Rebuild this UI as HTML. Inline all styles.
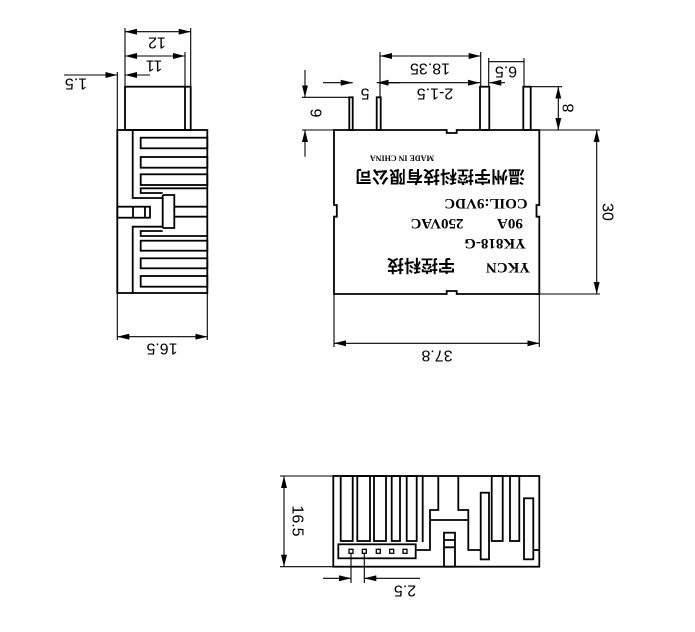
<!DOCTYPE html>
<html><head><meta charset="utf-8"><style>
html,body{margin:0;padding:0;background:#fff;}
svg{display:block;}
text{font-family:"Liberation Sans",sans-serif;fill:#000;}
.b{font-family:"Liberation Serif","Noto Serif CJK SC",serif;font-weight:bold;}
.c{font-family:"Noto Sans CJK SC",sans-serif;font-weight:bold;}
</style></head><body>
<svg width="695" height="632" viewBox="0 0 695 632" xmlns="http://www.w3.org/2000/svg">
<defs>
<marker id="a" viewBox="0 0 12 6" refX="12" refY="3" markerWidth="12" markerHeight="6" markerUnits="userSpaceOnUse" orient="auto-start-reverse"><path d="M0,0 L12,3 L0,6 z" fill="#000"/></marker>
</defs>
<g fill="none" stroke="#000" stroke-width="1.8">
<!-- LEFT VIEW -->
<rect x="117.3" y="130" width="90" height="163"/>
<rect x="125" y="86.7" width="65.7" height="43.3"/>
<line x1="185" y1="86.7" x2="185" y2="130"/>
<path d="M132.7,130 V198 H162.7 M132.7,293 V226.7 H162.7"/>
<rect x="140.7" y="137.7" width="66.6" height="10.6"/>
<rect x="140.7" y="157" width="66.6" height="10.7"/>
<rect x="140.7" y="174.3" width="66.6" height="10.7"/>
<path d="M207.3,188.3 H140.7 V193 H162.7"/>
<path d="M207.3,236 H140.7 V231 H162.7"/>
<rect x="140.7" y="240.7" width="66.6" height="10"/>
<rect x="140.7" y="258.3" width="66.6" height="10"/>
<rect x="140.7" y="276" width="66.6" height="10.7"/>
<path d="M162.7,195 H174.3 V206.7 H207.3 M162.7,228 H174.3 V216.7 H207.3 M162.7,195 V228 M174.3,206.7 V216.7"/>
<rect x="117.3" y="206.7" width="32.7" height="11"/>
<path d="M133,206.7 V217.7 M145,206.7 V217.7"/>
<g stroke-width="1.1">
<path d="M125,28 V86.7 M190.7,28 V86.7 M185,52 V86.7 M117.3,72 V130 M117.3,293 V340 M207.3,293 V340"/>
<line x1="125" y1="31.7" x2="190.7" y2="31.7" marker-start="url(#a)" marker-end="url(#a)"/>
<line x1="125" y1="56" x2="185" y2="56" marker-start="url(#a)" marker-end="url(#a)"/>
<line x1="64" y1="75" x2="117.3" y2="75" marker-end="url(#a)"/>
<line x1="150" y1="75" x2="125" y2="75" marker-end="url(#a)"/>
<line x1="117.3" y1="336.7" x2="207.3" y2="336.7" marker-start="url(#a)" marker-end="url(#a)"/>
</g>
<!-- MAIN VIEW -->
<path d="M334,130 H446.7 V133 H456.7 V130 H539.3 V205 H536.5 V216.7 H539.3 V294 H456.7 V291 H446.7 V294 H334 V216.7 H336.8 V205 H334 Z"/>
<rect x="349.3" y="97.3" width="3.4" height="32.7"/>
<rect x="376.7" y="97.3" width="4" height="32.7"/>
<rect x="480" y="86.7" width="9.3" height="43.3"/>
<rect x="523.3" y="86.7" width="7.4" height="43.3"/>
<g stroke-width="1.1">
<path d="M380,52 V97 M480.7,52 V86.7 M488.7,58 V86.7 M524,58 V86.7"/>
<line x1="380" y1="56" x2="480.7" y2="56" marker-start="url(#a)" marker-end="url(#a)"/>
<line x1="488.7" y1="61.7" x2="524" y2="61.7"/>
<line x1="323" y1="82.7" x2="352.7" y2="82.7" marker-end="url(#a)"/>
<line x1="400" y1="82.7" x2="376.7" y2="82.7" marker-end="url(#a)"/>
<line x1="380" y1="82.7" x2="480" y2="82.7" marker-end="url(#a)"/>
<line x1="505" y1="82.7" x2="489.3" y2="82.7" marker-end="url(#a)"/>
<path d="M302,97.3 H349 M302,130 H334"/>
<line x1="305" y1="70" x2="305" y2="97.3" marker-end="url(#a)"/>
<line x1="305" y1="156.7" x2="305" y2="130" marker-end="url(#a)"/>
<path d="M530,86.7 H562 M539,130 H600 M539,294 H600 M334,294 V347 M539.3,294 V347"/>
<line x1="558.3" y1="86.7" x2="558.3" y2="130" marker-start="url(#a)" marker-end="url(#a)"/>
<line x1="596.7" y1="130" x2="596.7" y2="294" marker-start="url(#a)" marker-end="url(#a)"/>
<line x1="334" y1="343.3" x2="539.3" y2="343.3" marker-start="url(#a)" marker-end="url(#a)"/>
</g>
<!-- BOTTOM VIEW -->
<rect x="333.3" y="476" width="206" height="90.7"/>
<rect x="340.7" y="476" width="12" height="65"/>
<rect x="357.3" y="476" width="12.7" height="65"/>
<rect x="374" y="476" width="12" height="65"/>
<rect x="391.7" y="476" width="8.3" height="65"/>
<rect x="406.7" y="476" width="10" height="65"/>
<path d="M422.7,476 V542 M416.7,550 H430 V510 H438.3 V476 M458.3,476 V510 H468.3 V550 H480 M430,520 H468.3"/>
<rect x="444" y="532.7" width="11" height="34"/>
<path d="M444,540 H455 M444,547.3 H455"/>
<rect x="480.7" y="492.7" width="8.3" height="66.7"/>
<rect x="491.7" y="476" width="11" height="65"/>
<rect x="510" y="476" width="9.3" height="65"/>
<rect x="524" y="498.3" width="9.3" height="61"/>
<path d="M533.3,550 H539.3"/>
<rect x="338.3" y="544.3" width="77.4" height="14"/>
<g stroke-width="1.3">
<rect x="349" y="549.3" width="4" height="4"/>
<rect x="362.3" y="549.3" width="4" height="4"/>
<rect x="376.3" y="549.3" width="4" height="4"/>
<rect x="389.7" y="549.3" width="4" height="4"/>
<rect x="403" y="549.3" width="4" height="4"/>
</g>
<g stroke-width="1.1">
<path d="M280,476 H333.3 M280,566.7 H333.3 M351,553 V583 M364.3,553 V583"/>
<line x1="284" y1="476" x2="284" y2="566.7" marker-start="url(#a)" marker-end="url(#a)"/>
<line x1="323" y1="578.3" x2="351" y2="578.3" marker-end="url(#a)"/>
<line x1="420" y1="578.3" x2="364.3" y2="578.3" marker-end="url(#a)"/>
</g>
</g>
<g font-size="16">
<text x="157" y="42" text-anchor="middle" dominant-baseline="central" transform="rotate(180 157 42)">12</text>
<text x="154" y="65" text-anchor="middle" dominant-baseline="central" transform="rotate(180 154 65)">11</text>
<text x="76" y="83" text-anchor="middle" dominant-baseline="central" transform="rotate(180 76 83)">1.5</text>
<text x="162" y="348" text-anchor="middle" dominant-baseline="central" transform="rotate(180 162 348)">16.5</text>
<text x="430" y="68" text-anchor="middle" dominant-baseline="central" transform="rotate(180 430 68)">18.35</text>
<text x="506" y="71" text-anchor="middle" dominant-baseline="central" transform="rotate(180 506 71)">6.5</text>
<text x="365" y="93" text-anchor="middle" dominant-baseline="central" transform="rotate(180 365 93)">5</text>
<text x="435" y="93" text-anchor="middle" dominant-baseline="central" transform="rotate(180 435 93)">2-1.5</text>
<text x="317" y="113" text-anchor="middle" dominant-baseline="central" transform="rotate(270 317 113)">6</text>
<text x="569" y="108" text-anchor="middle" dominant-baseline="central" transform="rotate(270 569 108)">8</text>
<text x="607" y="212" text-anchor="middle" dominant-baseline="central" transform="rotate(90 607 212)">30</text>
<text x="437" y="355" text-anchor="middle" dominant-baseline="central" transform="rotate(180 437 355)">37.8</text>
<text x="297" y="521" text-anchor="middle" dominant-baseline="central" transform="rotate(90 297 521)">16.5</text>
<text x="405" y="590" text-anchor="middle" dominant-baseline="central" transform="rotate(180 405 590)">2.5</text>
</g>
<text class="b" x="402" y="158" font-size="8" text-anchor="middle" dominant-baseline="central" transform="rotate(180 402 158)">MADE IN CHINA</text>
<text class="c" x="440" y="178" font-size="17" text-anchor="middle" dominant-baseline="central" transform="rotate(180 440 178)">温州宇控科技有限公司</text>
<text class="b" x="486" y="203" font-size="15" text-anchor="middle" dominant-baseline="central" transform="rotate(180 486 203)">COIL:9VDC</text>
<text class="b" x="510" y="223" font-size="15" text-anchor="middle" dominant-baseline="central" transform="rotate(180 510 223)">90A</text>
<text class="b" x="437" y="223" font-size="15" text-anchor="middle" dominant-baseline="central" transform="rotate(180 437 223)">250VAC</text>
<text class="b" x="495" y="243" font-size="15" text-anchor="middle" dominant-baseline="central" transform="rotate(180 495 243)">YK818-G</text>
<text class="b" x="508" y="267" font-size="15" text-anchor="middle" dominant-baseline="central" transform="rotate(180 508 267)">YKCN</text>
<text class="c" x="421" y="267" font-size="17" text-anchor="middle" dominant-baseline="central" transform="rotate(180 421 267)">宇控科技</text>
</svg>
</body></html>
